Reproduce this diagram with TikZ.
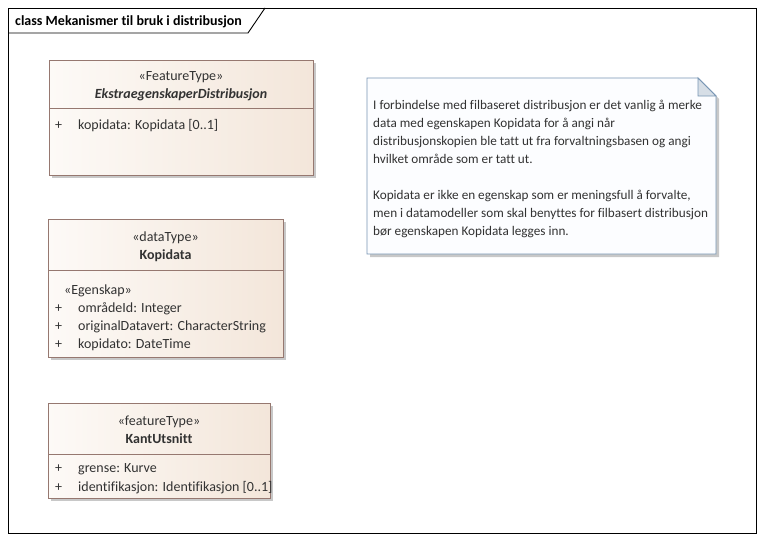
\documentclass[tikz,border=0pt]{standalone}
\usepackage{fontspec}
\setmainfont{Carlito}[Ligatures=NoCommon]
\definecolor{clsborder}{RGB}{150,120,112}
\definecolor{clsleft}{RGB}{253,250,247}
\definecolor{clsright}{RGB}{243,230,218}
\definecolor{txt}{RGB}{50,50,50}
\definecolor{noteborder}{RGB}{120,150,180}
\definecolor{notefill}{RGB}{252,253,255}
\definecolor{foldfill}{RGB}{214,222,230}
\definecolor{shadowc}{RGB}{200,200,200}
\tikzset{
  clsbox/.style={draw=clsborder, line width=0.9pt, left color=clsleft, right color=clsright},
  clsshadow/.style={fill=shadowc},
  divider/.style={draw=clsborder, line width=0.9pt},
  txtnode/.style={inner sep=0pt, text=txt, font=\fontsize{14}{16}\selectfont},
  attr/.style={txtnode, anchor=base west},
  notetxt/.style={inner sep=0pt, text=txt, anchor=base west, font=\fontsize{13.2}{15}\selectfont},
  stereo/.style={txtnode, anchor=base},
}
\begin{document}
\begin{tikzpicture}[x=1pt,y=-1pt]
\useasboundingbox (0,0) rectangle (764,541);
\fill[white] (0,0) rectangle (764,541);
% frame
\draw[black, line width=0.9pt] (8,8) rectangle (756,533);
\draw[black, line width=0.9pt] (8,33) -- (248,33) -- (265,8);
\node[inner sep=0pt, anchor=base west, font=\fontsize{14}{16}\selectfont\bfseries] (title) at (15,25) {class Mekanismer til bruk i distribusjon};

% class 1
\fill[clsshadow] (52,63) rectangle (316,178);
\path[clsbox] (49,60) rectangle (313,175);
\draw[divider] (49,108) -- (313,108);
\node[stereo] (s1) at (181,80) {«FeatureType»};
\node[stereo, font=\fontsize{14}{16}\selectfont\bfseries\itshape] (n1) at (181,98) {EkstraegenskaperDistribusjon};
\node[attr] (p1) at (55,129) {+};
\node[attr] (a1) at (78,129) {kopidata: Kopidata [0..1]};

% class 2
\fill[clsshadow] (51,222) rectangle (286,360);
\path[clsbox] (48,219) rectangle (283,357);
\draw[divider] (48,270) -- (283,270);
\node[stereo] (s2) at (165.5,241) {«dataType»};
\node[stereo, font=\fontsize{14}{16}\selectfont\bfseries] (n2) at (165.5,259) {Kopidata};
\node[attr] (e2) at (64,294) {«Egenskap»};
\node[attr] (p21) at (55,312) {+};
\node[attr] (a21) at (78,312) {områdeId: Integer};
\node[attr] (p22) at (55,330) {+};
\node[attr] (a22) at (78,330) {originalDatavert: CharacterString};
\node[attr] (p23) at (55,348) {+};
\node[attr] (a23) at (78,348) {kopidato: DateTime};

% class 3
\fill[clsshadow] (51,406) rectangle (273,501);
\path[clsbox] (48,403) rectangle (270,498);
\draw[divider] (48,454) -- (270,454);
\node[stereo] (s3) at (159,425) {«featureType»};
\node[stereo, font=\fontsize{14}{16}\selectfont\bfseries] (n3) at (159,443) {KantUtsnitt};
\node[attr] (p31) at (55,472) {+};
\node[attr] (a31) at (78,472) {grense: Kurve};
\node[attr] (p32) at (55,491) {+};
\node[attr] (a32) at (78,491) {identifikasjon: Identifikasjon [0..1]};

% note
\fill[shadowc] (370,81) -- (701,81) -- (719,99) -- (719,257) -- (370,257) -- cycle;
\filldraw[fill=notefill, draw=noteborder, line width=0.9pt] (367,78) -- (698,78) -- (716,96) -- (716,254) -- (367,254) -- cycle;
\filldraw[fill=foldfill, draw=noteborder, line width=0.9pt] (698,78) -- (698,96) -- (716,96) -- cycle;
\node[notetxt] (nt1) at (373,109) {I forbindelse med filbaseret distribusjon er det vanlig å merke};
\node[notetxt] (nt2) at (373,127) {data med egenskapen Kopidata for å angi når};
\node[notetxt] (nt3) at (373,145) {distribusjonskopien ble tatt ut fra forvaltningsbasen og angi};
\node[notetxt] (nt4) at (373,163) {hvilket område som er tatt ut.};
\node[notetxt] (nt5) at (373,199) {Kopidata er ikke en egenskap som er meningsfull å forvalte,};
\node[notetxt] (nt6) at (373,217) {men i datamodeller som skal benyttes for filbasert distribusjon};
\node[notetxt] (nt7) at (373,235) {bør egenskapen Kopidata legges inn.};
\end{tikzpicture}
\end{document}
